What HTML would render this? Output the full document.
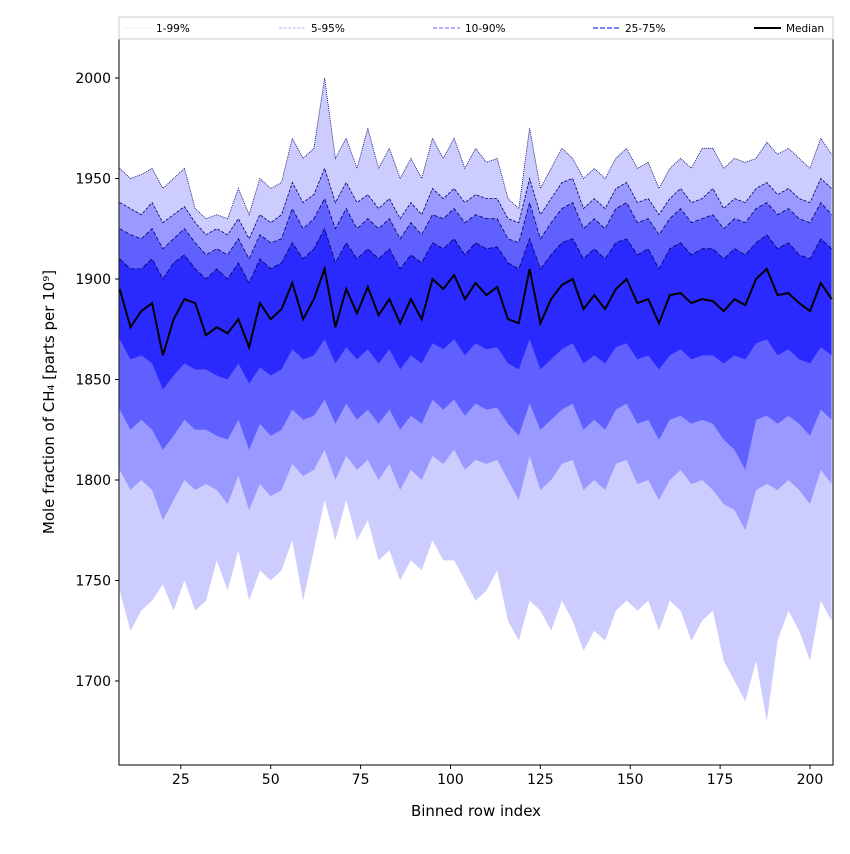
<!DOCTYPE html>
<html><head><meta charset="utf-8"><style>
body{margin:0;background:#fff;font-family:"DejaVu Sans","Liberation Sans",sans-serif}
</style></head><body>
<svg id="c" width="850" height="850" xmlns="http://www.w3.org/2000/svg" font-family="DejaVu Sans, Liberation Sans, sans-serif"></svg>
<script>
const xStart=8, xStep=3;
const median=[1895,1876,1884,1888,1862,1880,1890,1888,1872,1876,1873,1880,1866,1888,1880,1885,1898,1880,1890,1905,1876,1895,1883,1896,1882,1890,1878,1890,1880,1900,1895,1902,1890,1898,1892,1896,1880,1878,1905,1878,1890,1897,1900,1885,1892,1885,1895,1900,1888,1890,1878,1892,1893,1888,1890,1889,1884,1890,1887,1900,1905,1892,1893,1888,1884,1898,1890];
const p25=[1870,1860,1862,1858,1845,1852,1858,1855,1855,1852,1850,1858,1848,1856,1852,1855,1865,1860,1862,1870,1858,1866,1860,1865,1858,1865,1855,1862,1858,1868,1865,1870,1862,1868,1865,1866,1858,1855,1870,1855,1860,1865,1868,1858,1862,1858,1866,1868,1860,1862,1855,1862,1865,1860,1862,1862,1858,1862,1860,1868,1870,1862,1865,1860,1858,1866,1862];
const p10=[1835,1825,1830,1825,1815,1822,1830,1825,1825,1822,1820,1830,1815,1828,1822,1825,1835,1830,1832,1840,1828,1838,1830,1835,1828,1835,1825,1832,1828,1840,1835,1840,1832,1838,1835,1836,1828,1822,1838,1825,1830,1835,1838,1825,1830,1825,1835,1838,1828,1830,1820,1830,1832,1828,1830,1828,1820,1815,1805,1830,1832,1828,1832,1828,1822,1835,1830];
const p5=[1805,1795,1800,1795,1780,1790,1800,1795,1798,1795,1788,1802,1785,1798,1792,1795,1808,1802,1805,1815,1800,1812,1805,1810,1800,1808,1795,1805,1800,1812,1808,1815,1805,1810,1808,1810,1800,1790,1812,1795,1800,1808,1810,1795,1800,1795,1808,1810,1798,1800,1790,1800,1805,1798,1800,1795,1788,1785,1775,1795,1798,1795,1800,1795,1788,1805,1798];
const p1=[1745,1725,1735,1740,1748,1735,1750,1735,1740,1760,1745,1765,1740,1755,1750,1755,1770,1740,1765,1790,1770,1790,1770,1780,1760,1765,1750,1760,1755,1770,1760,1760,1750,1740,1745,1755,1730,1720,1740,1735,1725,1740,1730,1715,1725,1720,1735,1740,1735,1740,1725,1740,1735,1720,1730,1735,1710,1700,1690,1710,1680,1720,1735,1725,1710,1740,1730];
const p75=[1910,1905,1905,1910,1900,1908,1912,1905,1900,1905,1900,1908,1898,1910,1905,1908,1918,1910,1915,1925,1908,1918,1910,1915,1910,1915,1905,1912,1908,1918,1915,1920,1912,1918,1915,1916,1908,1905,1920,1905,1912,1918,1920,1910,1915,1910,1918,1920,1912,1915,1905,1915,1918,1912,1915,1915,1910,1915,1912,1918,1922,1915,1918,1912,1910,1920,1915];
const p90=[1925,1922,1920,1925,1915,1920,1925,1918,1912,1915,1912,1920,1910,1922,1918,1920,1935,1925,1930,1940,1925,1935,1925,1930,1925,1930,1920,1928,1922,1932,1930,1935,1928,1932,1930,1930,1920,1918,1938,1920,1928,1935,1938,1925,1930,1925,1935,1938,1928,1930,1922,1930,1935,1928,1930,1932,1925,1930,1928,1935,1938,1932,1935,1930,1928,1938,1932];
const p95=[1938,1935,1932,1938,1928,1932,1936,1928,1922,1925,1922,1930,1920,1932,1928,1932,1948,1938,1942,1955,1938,1948,1938,1942,1935,1940,1930,1938,1932,1945,1940,1945,1938,1942,1940,1940,1930,1928,1950,1932,1940,1948,1950,1935,1940,1935,1945,1948,1938,1940,1932,1940,1945,1938,1940,1945,1935,1940,1938,1945,1948,1942,1945,1940,1938,1950,1945];
const p99=[1955,1950,1952,1955,1945,1950,1955,1935,1930,1932,1930,1945,1932,1950,1945,1948,1970,1960,1965,2000,1960,1970,1955,1975,1955,1965,1950,1960,1950,1970,1960,1970,1955,1965,1958,1960,1940,1935,1975,1945,1955,1965,1960,1950,1955,1950,1960,1965,1955,1958,1945,1955,1960,1955,1965,1965,1955,1960,1958,1960,1968,1962,1965,1960,1955,1970,1962];
const xTicks=[25,50,75,100,125,150,175,200];
const yTicks=[1700,1750,1800,1850,1900,1950,2000];
const legendLabels=["1-99%","5-95%","10-90%","25-75%","Median"];

const L=119,R=833,T=39,B=765,X0=7.8,X1=206.4,Y0=1658.2,Y1=2019.4;
const sx=v=>L+(v-X0)/(X1-X0)*(R-L);
const sy=v=>B-(v-Y0)/(Y1-Y0)*(B-T);
const NS="http://www.w3.org/2000/svg";
const svg=document.getElementById('c');
function mk(t,a,p){const e=document.createElementNS(NS,t);for(const k in a)e.setAttribute(k,a[k]);(p||svg).appendChild(e);return e;}
const xs=i=>xStart+xStep*i;
function linePts(arr){return arr.map((v,i)=>sx(xs(i)).toFixed(1)+','+sy(v).toFixed(1)).join(' ');}
function bandPts(lo,hi){return linePts(hi)+' '+lo.map((v,i)=>[sx(xs(i)).toFixed(1),sy(v).toFixed(1)]).reverse().map(p=>p.join(',')).join(' ');}
const cpth=mk('clipPath',{id:'clip'});
mk('rect',{x:L,y:T,width:R-L,height:B-T},cpth);
const g=mk('g',{'clip-path':'url(#clip)'});
const bands=[[p1,p99,'#ccccff','band-1-99','1,1'],[p5,p95,'#9999ff','band-5-95','3,1.5'],[p10,p90,'#6060ff','band-10-90','4,2'],[p25,p75,'#2a2aff','band-25-75','5,2']];
bands.forEach(b=>{
  const poly=mk('polygon',{points:bandPts(b[0],b[1]),fill:b[2],stroke:'none'},g);
  
  
  const up=mk('polyline',{points:linePts(b[1]),fill:'none',stroke:'#000060','stroke-width':0.8,'stroke-dasharray':b[4]},g);
  
  
});
const med=mk('polyline',{points:linePts(median),fill:'none',stroke:'#000','stroke-width':2},g);


mk('rect',{x:L,y:T,width:R-L,height:B-T,fill:'none',stroke:'#000','stroke-width':1});
xTicks.forEach(t=>{const x=sx(t);mk('line',{x1:x,x2:x,y1:B,y2:B+4,stroke:'#000'});
  const tx=mk('text',{x:x,y:B+19,'text-anchor':'middle','font-size':14,fill:'#000'});tx.textContent=t;
  
  });
yTicks.forEach(t=>{const y=sy(t);mk('line',{x1:L-4,x2:L,y1:y,y2:y,stroke:'#000'});
  const tx=mk('text',{x:L-8,y:y+5,'text-anchor':'end','font-size':14,fill:'#000'});tx.textContent=t;
  
  });
const xt=mk('text',{x:(L+R)/2,y:816,'text-anchor':'middle','font-size':15});xt.textContent='Binned row index';


const yt=mk('text',{x:0,y:0,'text-anchor':'middle','font-size':15,transform:'translate(54,402) rotate(-90)'});yt.textContent='Mole fraction of CH₄ [parts per 10⁹]';


const lg=mk('g',{});


mk('rect',{x:L,y:17,width:R-L,height:22,fill:'#fff',stroke:'#ccc','stroke-width':1},lg);
const lstyles=[['#ccccff','1,1',0.8],['#9999ff','3,1.5',0.8],['#6666ff','4,2',1],['#3333ff','5,2',1.2],['#000','',2]];
const lx=[124,279,433,593,754];
legendLabels.forEach((lab,i)=>{
  const e=mk('g',{},lg);
  
  
  mk('line',{x1:lx[i],x2:lx[i]+27,y1:28,y2:28,stroke:lstyles[i][0],'stroke-width':lstyles[i][2],'stroke-dasharray':lstyles[i][1]},e);
  const t=mk('text',{x:lx[i]+32,y:32,'font-size':10.5},e);t.textContent=lab;
});
</script>
</body></html>
